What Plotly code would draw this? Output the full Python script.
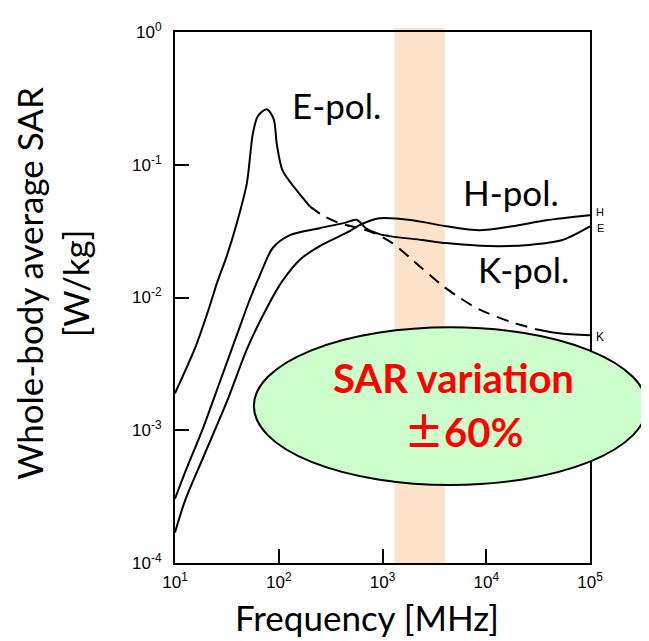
import plotly.graph_objects as go

# ---- data (frequency in MHz, whole-body average SAR in W/kg) ----
e_freq_solid = [10, 15.8, 21.7, 25.4, 31.6, 39.4, 49.2, 56.2, 62.8, 76.7, 89.5, 95.7, 109, 149, 199]
e_sar_solid = [1.90e-3, 4.27e-3, 8.71e-3, 0.0129, 0.0206, 0.0363, 0.0721, 0.170, 0.232, 0.262, 0.220, 0.1435, 0.0902, 0.064, 0.0486]

k_freq_dash = [199, 265, 386, 601, 838, 1247, 1941, 3776, 5495, 8570, 17780, 30270]
k_sar_dash = [0.0486, 0.0416, 0.0363, 0.0333, 0.0305, 0.0257, 0.0192, 0.0123, 0.0100, 0.00813, 0.0065, 0.00577]

k_freq_tail = [30270, 50350, 100000]
k_sar_tail = [0.00577, 0.00538, 0.0052]

b_freq = [10, 13.0, 18.6, 27.1, 39.4, 52.6, 65.6, 87.5, 128, 248, 432, 562, 701, 935, 1167, 2427, 4121, 10690, 25880, 53830, 100000]
b_sar = [3.05e-4, 5.2e-4, 1.035e-3, 2.32e-3, 5.2e-3, 9.66e-3, 0.0146, 0.0236, 0.0295, 0.0333, 0.0365, 0.0385, 0.0330, 0.0300, 0.029, 0.0271, 0.0257, 0.0244, 0.0249, 0.0271, 0.0344]

c_freq = [10, 12.5, 18.6, 31.6, 50.4, 81.8, 109, 159, 248, 482, 601, 935, 1941, 4121, 8570, 17780, 37760, 100000]
c_sar = [1.70e-4, 2.95e-4, 6.18e-4, 1.64e-3, 4.24e-3, 9.18e-3, 0.0134, 0.0192, 0.0244, 0.0316, 0.0351, 0.0395, 0.0382, 0.0344, 0.0321, 0.0344, 0.0382, 0.0417]

band_mhz = [1300, 4000]

x_tickvals = [10, 100, 1000, 10000, 100000]
x_ticktext = ["10<sup>1</sup>", "10<sup>2</sup>", "10<sup>3</sup>", "10<sup>4</sup>", "10<sup>5</sup>"]
y_tickvals = [1e-4, 1e-3, 1e-2, 1e-1, 1]
y_ticktext = ["10<sup>-4</sup>", "10<sup>-3</sup>", "10<sup>-2</sup>", "10<sup>-1</sup>", "10<sup>0</sup>"]

# ---- figure ----
fig = go.Figure()
line_style = dict(color="black", width=2, shape="spline", smoothing=0.8)
fig.add_trace(go.Scatter(x=e_freq_solid, y=e_sar_solid, mode="lines", line=line_style, showlegend=False))
fig.add_trace(go.Scatter(x=k_freq_dash, y=k_sar_dash, mode="lines",
                         line=dict(color="black", width=2, dash="12px,8px", shape="spline", smoothing=0.8), showlegend=False))
fig.add_trace(go.Scatter(x=k_freq_tail, y=k_sar_tail, mode="lines", line=line_style, showlegend=False))
fig.add_trace(go.Scatter(x=b_freq, y=b_sar, mode="lines", line=line_style, showlegend=False))
fig.add_trace(go.Scatter(x=c_freq, y=c_sar, mode="lines", line=line_style, showlegend=False))

tick_font = dict(family="Liberation Sans", size=17, color="black")
fig.update_xaxes(type="log", range=[1, 5], showline=True, mirror=True, linecolor="black", linewidth=2,
                 ticks="inside", ticklen=14, tickwidth=1.5, tickcolor="black",
                 tickvals=x_tickvals, ticktext=x_ticktext, tickfont=tick_font,
                 showgrid=False, zeroline=False, ticklabelstandoff=3)
fig.update_yaxes(type="log", range=[-4, 0], showline=True, mirror=True, linecolor="black", linewidth=2,
                 ticks="inside", ticklen=14, tickwidth=1.5, tickcolor="black",
                 tickvals=y_tickvals, ticktext=y_ticktext, tickfont=tick_font,
                 showgrid=False, zeroline=False, ticklabelstandoff=8)

shapes = [
    dict(type="rect", xref="x", yref="paper", x0=band_mhz[0], x1=band_mhz[1], y0=0, y1=1.0075,
         fillcolor="#FDE3CA", line=dict(width=0), layer="below"),
    dict(type="circle", xref="paper", yref="paper", x0=0.190, x1=1.137, y0=0.147, y1=0.444,
         fillcolor="#CCFFCC", line=dict(color="black", width=2), layer="above"),
]

label_font = dict(family="Lato", size=35, color="black")


def ann(text, x, y, font, **kw):
    return dict(text=text, x=x, y=y, xref="paper", yref="paper", showarrow=False,
                xanchor="center", yanchor="middle", font=font, **kw)


red_font = dict(family="Lato", size=40, color="#FF0000")
annotations = [
    ann("E-pol.", 0.388, 0.862, label_font),
    ann("H-pol.", 0.810, 0.698, label_font),
    ann("K-pol.", 0.839, 0.553, label_font),
    ann("<b>SAR variation</b>", 0.670, 0.348, red_font),
    ann("<b><span style=\"font-family:'Noto Sans CJK JP'\">±</span>60%</b>", 0.694, 0.251, red_font),
    ann("H", 1.025, 0.661, dict(family="Liberation Sans", size=11, color="black")),
    ann("E", 1.025, 0.630, dict(family="Liberation Sans", size=11, color="black")),
    ann("K", 1.025, 0.426, dict(family="Liberation Sans", size=12, color="black")),
    ann("Frequency [MHz]", 0.463, -0.101, label_font),
    ann("Whole-body average SAR<br>[W/kg]", -0.296, 0.526, label_font, textangle=-90),
]

# the page shows the figure offset by the default 8px body margin, so the figure is 8px smaller
fig.update_layout(width=641, height=633, margin=dict(l=167, r=59, t=19, b=78),
                  plot_bgcolor="white", paper_bgcolor="white",
                  shapes=shapes, annotations=annotations)

fig.write_html("out.html")
